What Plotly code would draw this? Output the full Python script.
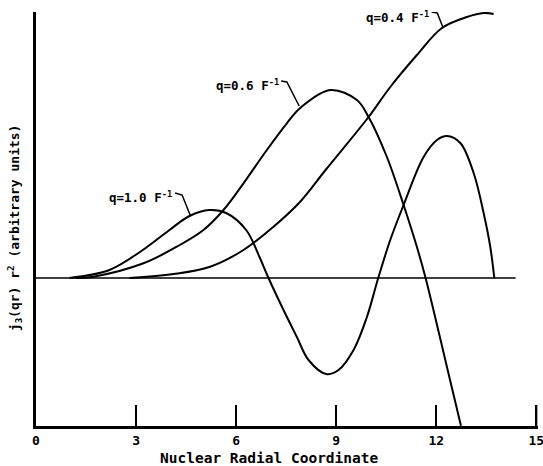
import plotly.graph_objects as go

# r^2 j3(qr) for three momentum transfers (arbitrary units)
r_q04 = [2.8, 4.12, 5.22, 6.22, 7.12, 7.92, 8.68, 9.97, 10.62, 11.42, 12.17, 12.92, 13.42, 13.72]
y_q04 = [0.0, 0.4, 1.13, 2.8, 5.13, 7.63, 10.8, 16.1, 19.1, 22.3, 25.0, 26.1, 26.5, 26.4]

r_q06 = [1.2, 1.72, 3.22, 4.22, 5.02, 5.62, 6.22, 6.92, 7.52, 7.92, 8.82, 9.62, 9.97,
         10.52, 11.02, 11.42, 11.68, 12.32, 12.74]
y_q06 = [0.0, 0.13, 1.47, 3.13, 4.8, 6.8, 9.47, 12.8, 15.47, 17.0, 18.8, 17.8, 16.1,
         12.1, 7.3, 3.1, 0.0, -8.9, -14.77]

r_q10 = [1.0, 2.2, 3.2, 4.0, 4.6, 5.2, 5.7, 6.3, 6.7, 6.97, 7.42, 7.82, 8.17, 8.7, 9.07,
         9.52, 9.92, 10.26, 10.62, 11.02, 11.62, 12.02, 12.32, 12.72, 13.12, 13.42, 13.62, 13.74]
y_q10 = [0.0, 0.8, 2.8, 4.8, 6.2, 6.8, 6.5, 4.8, 2.1, 0.0, -3.2, -5.9, -8.2, -9.6, -9.2,
         -7.2, -3.9, 0.0, 3.8, 7.3, 12.1, 13.8, 14.2, 13.5, 10.5, 6.5, 3.1, 0.0]

x_ticks = [0, 3, 6, 9, 12, 15]
x_tick_text = ["0", "3", "6", "9", "12", "15"]

# curve labels: text, right edge of text, leader path to its curve
labels = [
    ("q=0.4 F<sup>-1</sup>", 11.84, 26.1, [(11.86, 26.6), (12.03, 26.5), (12.21, 24.97)]),
    ("q=0.6 F<sup>-1</sup>", 7.33, 19.3, [(7.35, 19.7), (7.52, 19.6), (7.89, 17.2)]),
    ("q=1.0 F<sup>-1</sup>", 4.15, 8.13, [(4.17, 8.5), (4.38, 8.3), (4.62, 6.3)]),
]

mono = "DejaVu Sans Mono"
line_style = dict(color="black", width=2, shape="spline", smoothing=1.0)
y_range = [-14.8, 26.6]

fig = go.Figure()
for rr, yy in [(r_q04, y_q04), (r_q06, y_q06), (r_q10, y_q10)]:
    fig.add_trace(go.Scatter(x=rr, y=yy, mode="lines", line=line_style,
                             hoverinfo="skip", showlegend=False))

# zero baseline
fig.add_shape(type="line", x0=0, x1=14.38, y0=0, y1=0,
              line=dict(color="black", width=1.5), layer="below")

# end tick at the right edge of the axis (plotly skips inside ticks at the range end)
fig.add_shape(type="line", x0=x_ticks[-1], x1=x_ticks[-1],
              y0=y_range[0], y1=y_range[0] + 2.1,
              line=dict(color="black", width=2))

for text, xa, ya, path in labels:
    fig.add_annotation(x=xa, y=ya, text=text, showarrow=False, xanchor="right",
                       yanchor="middle",
                       font=dict(family=mono, size=12.5, color="black", weight="bold"))
    d = "M " + " L ".join(f"{px},{py}" for px, py in path)
    fig.add_shape(type="path", path=d, line=dict(color="black", width=1.5))

fig.add_annotation(
    xref="paper", yref="paper", x=-0.042, y=0.48, textangle=-90, showarrow=False,
    xanchor="center", yanchor="middle",
    text="j<sub>3</sub>(qr) r<sup>2</sup> (arbitrary units)",
    font=dict(family=mono, size=13, color="black", weight="bold"),
)
fig.add_annotation(
    xref="paper", yref="paper", x=0.466, y=-0.078, showarrow=False,
    xanchor="center", yanchor="middle",
    text="Nuclear Radial Coordinate",
    font=dict(family=mono, size=14.5, color="black", weight="bold"),
)

fig.update_layout(
    width=543, height=466,
    margin=dict(l=36, r=5, t=12, b=40, autoexpand=False),
    paper_bgcolor="white", plot_bgcolor="white",
    xaxis=dict(
        range=[-0.001, 15.05], showgrid=False, zeroline=False, automargin=False,
        showline=True, linecolor="black", linewidth=3,
        ticks="inside", ticklen=21, tickwidth=2, tickcolor="black",
        tickvals=x_ticks, ticktext=x_tick_text, ticklabeloverflow="allow",
        tickfont=dict(family=mono, size=13, color="black", weight="bold"),
    ),
    yaxis=dict(
        range=y_range, showgrid=False, zeroline=False, automargin=False,
        showline=True, linecolor="black", linewidth=3,
        showticklabels=False, ticks="",
    ),
)

fig.write_html("out.html")
